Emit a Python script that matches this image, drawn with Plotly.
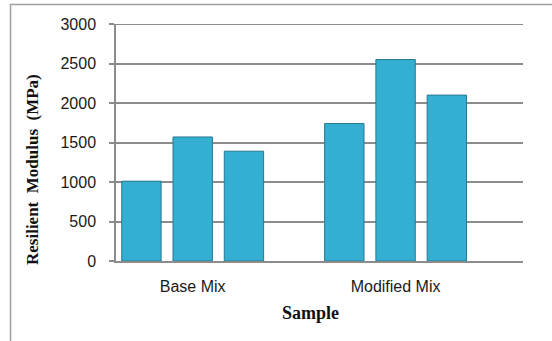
import plotly.graph_objects as go

# Resilient modulus per mix, three specimens each
categories = ["Base Mix", "Modified Mix"]
specimen_1 = [1010, 1740]
specimen_2 = [1570, 2550]
specimen_3 = [1390, 2100]
series = [specimen_1, specimen_2, specimen_3]

y_ticks = [0, 500, 1000, 1500, 2000, 2500, 3000]

W, H = 552, 341
L, R, T, B = 116, 29, 24, 80
pw, ph = W - L - R, H - T - B


def px_x(x):
    return (x - L) / pw


def px_y(y):
    return (H - B - y) / ph


bar_fill = "#35afd1"
bar_edge = "#257891"
grid = "#8c8c8c"

fig = go.Figure()
for vals in series:
    fig.add_trace(go.Bar(
        x=categories, y=vals,
        marker=dict(color=bar_fill, line=dict(color=bar_edge, width=1)),
        showlegend=False, hoverinfo="skip",
    ))

fig.update_layout(
    width=W, height=H,
    margin=dict(l=L, r=R, t=T, b=B, pad=0),
    paper_bgcolor="white", plot_bgcolor="white",
    barmode="group", bargap=0.242, bargroupgap=0.232,
    font=dict(family="Liberation Sans", size=16, color="#1a1a1a"),
    xaxis=dict(
        type="category", range=[-0.378, 1.628],
        showline=True, linecolor=grid, linewidth=1.5,
        showgrid=False, ticks="", ticklabelstandoff=10,
        tickfont=dict(size=16, color="#1a1a1a"),
    ),
    yaxis=dict(
        range=[y_ticks[0], y_ticks[-1]], tickvals=y_ticks,
        showline=True, linecolor=grid, linewidth=1.5,
        showgrid=True, gridcolor=grid, gridwidth=1.5,
        ticks="outside", ticklen=5, tickcolor=grid, tickwidth=1.5,
        ticklabelstandoff=10, zeroline=False,
        tickfont=dict(size=16, color="#1a1a1a"),
    ),
    annotations=[
        dict(text="<b>Resilient  Modulus  (MPa)</b>", textangle=-90,
             xref="paper", yref="paper", x=px_x(32), y=px_y(170),
             xanchor="center", yanchor="middle", showarrow=False,
             font=dict(family="Liberation Serif", size=17, color="#111")),
        dict(text="<b>Sample</b>",
             xref="paper", yref="paper", x=px_x(310), y=px_y(313),
             xanchor="center", yanchor="middle", showarrow=False,
             font=dict(family="Liberation Serif", size=18, color="#111")),
    ],
    shapes=[
        # outer chart frame
        dict(type="rect", xref="paper", yref="paper",
             x0=px_x(10.5), x1=px_x(W + 20), y0=px_y(H + 20), y1=px_y(4.5),
             line=dict(color="#a0a0a0", width=1.5), fillcolor="rgba(0,0,0,0)",
             layer="below"),
        # gridline at the top of the value axis
        dict(type="line", xref="paper", yref="y",
             x0=0, x1=1, y0=y_ticks[-1], y1=y_ticks[-1],
             line=dict(color=grid, width=2), layer="below"),
    ],
)

fig.write_html("out.html")
